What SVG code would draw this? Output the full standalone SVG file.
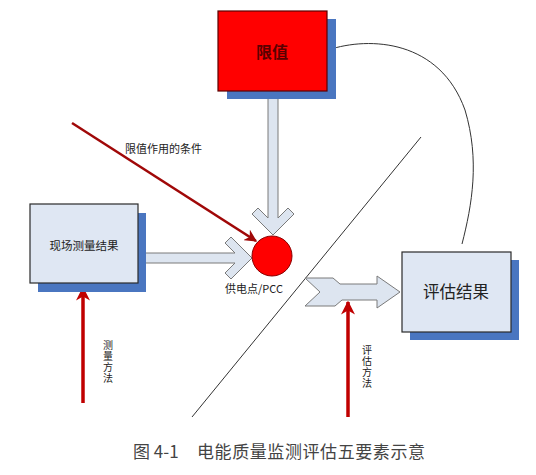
<svg xmlns="http://www.w3.org/2000/svg" width="536" height="475" viewBox="0 0 536 475">
<defs>
<style>
.shadow{fill:#4a76c0;}
.box{fill:#dfe7f3;stroke:#2a2a2a;stroke-width:1.2;}
.redbox{fill:#ff0000;stroke:#5a0000;stroke-width:1.2;}
.block{fill:#dde5f0;stroke:#7a7a7a;stroke-width:1;}
.redline{stroke:#c00000;stroke-width:3.5;fill:none;}
.t{font-family:"Noto Sans CJK SC","Liberation Sans",sans-serif;fill:#222;}
.thin{stroke:#333;stroke-width:1;fill:none;}
</style>
<marker id="ah" viewBox="0 0 10 10" refX="9" refY="5" markerWidth="4" markerHeight="4" orient="auto" markerUnits="strokeWidth">
<path d="M0,0 L10,5 L0,10 L3,5 z" fill="#c00000"/>
</marker>
<marker id="ah2" viewBox="0 0 10 10" refX="9" refY="5" markerWidth="5" markerHeight="5" orient="auto" markerUnits="strokeWidth">
<path d="M0,0 L10,5 L0,10 L3,5 z" fill="#a00808"/>
</marker>
</defs>
<rect width="536" height="475" fill="#ffffff"/>

<g id="connectors">
<line class="thin" x1="421" y1="137" x2="192" y2="417" stroke="#555"/>
<path class="thin" d="M328,50 C370,36 440,40 465,110 C480,160 472,205 462,244"/>
<polygon class="block" points="268,91 268,218 258,208 252,214 273,235 294,214 288,208 278,218 278,91"/>
<polygon class="block" points="145,253 235,253 225,243 231,237 252,258 231,279 225,273 235,263 145,263"/>
<polygon class="block" points="305,278 333,278 340,284 377,284 377,276 400,292 377,308 377,300 342,300 335,306 305,306 320,292"/>
<line x1="72" y1="123" x2="256" y2="241" stroke="#a00808" stroke-width="2.5" marker-end="url(#ah2)"/>
<text class="t" x="125" y="153" font-size="11">限值作用的条件</text>
<line class="redline" x1="83" y1="403" x2="83" y2="288" marker-end="url(#ah)"/>
<text class="t" font-size="10" text-anchor="middle"><tspan x="108" y="349">测</tspan><tspan x="108" y="360">量</tspan><tspan x="108" y="371">方</tspan><tspan x="108" y="382">法</tspan></text>
<line class="redline" x1="348" y1="417" x2="348" y2="302" marker-end="url(#ah)"/>
<text class="t" font-size="10" text-anchor="middle"><tspan x="367" y="354">评</tspan><tspan x="367" y="365">估</tspan><tspan x="367" y="376">方</tspan><tspan x="367" y="387">法</tspan></text>
</g>

<g id="limit">
<rect class="shadow" x="227" y="19" width="109" height="80"/>
<rect class="redbox" x="218" y="11" width="109" height="80"/>
<text class="t" x="272" y="58" font-size="16" font-weight="bold" text-anchor="middle" style="fill:#5a0000">限值</text>
</g>

<g id="field">
<rect class="shadow" x="38" y="213" width="108" height="79"/>
<rect class="box" x="30" y="204" width="108" height="79"/>
<text class="t" x="84" y="250" font-size="11.5" text-anchor="middle">现场测量结果</text>
</g>

<g id="pcc">
<circle cx="272" cy="256" r="20" fill="#ff0000" stroke="#8a0000" stroke-width="1"/>
<text class="t" x="254" y="293" font-size="11" text-anchor="middle">供电点/PCC</text>
</g>

<g id="result">
<rect class="shadow" x="410" y="260" width="109" height="80"/>
<rect class="box" x="402" y="252" width="109" height="80"/>
<text class="t" x="456" y="298" font-size="16.5" text-anchor="middle">评估结果</text>
</g>

<g id="caption">
<text class="t" x="133" y="458" font-size="17" style="fill:#444">图 4-1</text>
<text class="t" x="197" y="458" font-size="17" textLength="228" style="fill:#444">电能质量监测评估五要素示意</text>
</g>
</svg>
